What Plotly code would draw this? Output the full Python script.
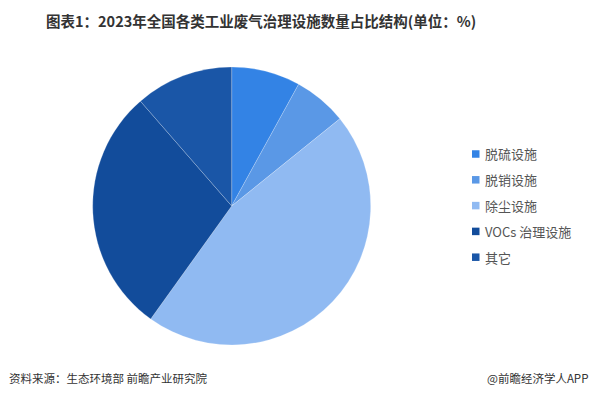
import plotly.graph_objects as go

W, H = 592, 397

categories = ["脱硫设施", "脱销设施", "除尘设施", "VOCs 治理设施", "其它"]
values = [8.0, 6.2, 45.7, 28.7, 11.4]
colors = ["#3383E5", "#5A98E6", "#90BAF2", "#124C9B", "#1A56A7"]

title_text = "图表1：2023年全国各类工业废气治理设施数量占比结构(单位：%)"
source_text = "资料来源：生态环境部 前瞻产业研究院"
brand_text = "@前瞻经济学人APP"

FONT = "Noto Sans CJK SC, Microsoft YaHei, sans-serif"

cx, cy, r = 231.7, 206.0, 139.0

fig = go.Figure()
fig.add_trace(go.Pie(
    labels=categories,
    values=values,
    sort=False,
    direction="clockwise",
    rotation=0,
    marker=dict(colors=colors, line=dict(color="rgba(255,255,255,0.35)", width=0.6)),
    textinfo="none",
    hoverinfo="label+percent",
    showlegend=False,
    domain=dict(x=[(cx - r) / W, (cx + r) / W], y=[1 - (cy + r) / H, 1 - (cy - r) / H]),
))

shapes = []
annotations = []

# manual legend
leg_x0 = 472
leg_y0 = 154
leg_dy = 25.8
for i, (name, col) in enumerate(zip(categories, colors)):
    yc = leg_y0 + i * leg_dy
    shapes.append(dict(type="rect", xref="paper", yref="paper",
                       x0=leg_x0 / W, x1=(leg_x0 + 7.5) / W,
                       y0=1 - (yc + 3.75) / H, y1=1 - (yc - 3.75) / H,
                       fillcolor=col, line=dict(width=0)))
    annotations.append(dict(text=name, xref="paper", yref="paper",
                            x=483 / W, y=1 - yc / H, xanchor="left", yanchor="middle",
                            showarrow=False, font=dict(family=FONT, size=13, color="#555555")))

annotations.append(dict(text="<b>" + title_text + "</b>", xref="paper", yref="paper",
                        x=261 / W, y=1 - 20 / H, xanchor="center", yanchor="middle",
                        showarrow=False, font=dict(family=FONT, size=14.5, color="#333333")))
annotations.append(dict(text=source_text, xref="paper", yref="paper",
                        x=7 / W, y=1 - 378 / H, xanchor="left", yanchor="middle",
                        showarrow=False, font=dict(family=FONT, size=11.5, color="#333333")))
annotations.append(dict(text=brand_text, xref="paper", yref="paper",
                        x=590 / W, y=1 - 378 / H, xanchor="right", yanchor="middle",
                        showarrow=False, font=dict(family=FONT, size=11.5, color="#333333")))

fig.update_layout(
    width=W, height=H,
    margin=dict(l=0, r=0, t=0, b=0),
    paper_bgcolor="white", plot_bgcolor="white",
    shapes=shapes, annotations=annotations,
    font=dict(family=FONT),
)

fig.write_html("out.html", config={"displayModeBar": False},
               post_script="document.body.style.margin='0';document.body.style.overflow='hidden';")
